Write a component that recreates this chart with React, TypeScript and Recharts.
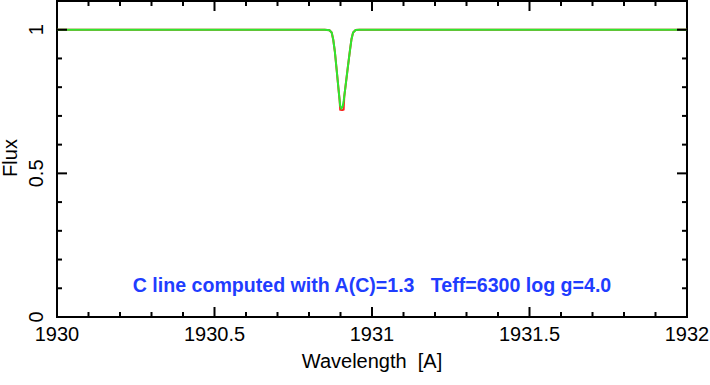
import { LineChart, Line, XAxis, YAxis, ReferenceArea, ReferenceDot, Label } from 'recharts';

// synthetic C line profile near 1930.9 A
const wavelength = [
  1930.0, 1930.85, 1930.865, 1930.872, 1930.877, 1930.882, 1930.888, 1930.894, 1930.897, 1930.899,
  1930.903, 1930.907, 1930.91, 1930.912, 1930.918, 1930.924, 1930.93, 1930.935, 1930.94, 1930.948,
  1930.96, 1932.0,
];
const observedFlux = [
  1, 1, 0.998, 0.99, 0.965, 0.925, 0.858, 0.79, 0.757, 0.722,
  0.721, 0.721, 0.722, 0.768, 0.822, 0.876, 0.928, 0.968, 0.99, 0.999,
  1, 1,
];
const modelFlux = [
  1, 1, 0.998, 0.99, 0.965, 0.925, 0.858, 0.79, 0.757, 0.735,
  0.726, 0.733, 0.752, 0.768, 0.822, 0.876, 0.928, 0.968, 0.99, 0.999,
  1, 1,
];

const xTicks = [
  1930, 1930.1, 1930.2, 1930.3, 1930.4, 1930.5, 1930.6, 1930.7, 1930.8, 1930.9, 1931,
  1931.1, 1931.2, 1931.3, 1931.4, 1931.5, 1931.6, 1931.7, 1931.8, 1931.9, 1932,
];
const xLabels = ['1930', '1930.5', '1931', '1931.5', '1932'];
const yTicks = [0, 0.1, 0.2, 0.3, 0.4, 0.5, 0.6, 0.7, 0.8, 0.9, 1, 1.1];
const yLabels = ['0', '0.5', '1'];

const annotation = 'C line computed with A(C)=1.3   Teff=6300 log g=4.0';

const data = wavelength.map((w, i) => ({ w, obs: observedFlux[i], model: modelFlux[i] }));

const W = 710;
const H = 385;
const MARGIN = { top: 1, right: 23, left: 0, bottom: 0 };
const Y_AXIS_W = 57;
const X_AXIS_H = 68;
const PLOT_TOP = MARGIN.top;
const PLOT_RIGHT = W - MARGIN.right;
const FONT = '"Liberation Sans", Arial, sans-serif';

const fmt = (v: number) => String(Number(v.toFixed(1)));

function XTick(props: any) {
  const { x, y, payload } = props;
  const label = fmt(payload.value);
  const major = xLabels.includes(label);
  const len = major ? 10 : 5;
  return (
    <g>
      <line x1={x} x2={x} y1={y} y2={y - len} stroke="#000" strokeWidth={2} />
      <line x1={x} x2={x} y1={PLOT_TOP} y2={PLOT_TOP + len} stroke="#000" strokeWidth={2} />
      {major && (
        <text x={x} y={y + 24} textAnchor="middle" fontSize={20} fontFamily={FONT} fill="#000">
          {label}
        </text>
      )}
    </g>
  );
}

function YTick(props: any) {
  const { x, y, payload } = props;
  const label = fmt(payload.value);
  const major = yLabels.includes(label);
  const len = major ? 10 : 5;
  return (
    <g>
      <line x1={x} x2={x + len} y1={y} y2={y} stroke="#000" strokeWidth={2} />
      <line x1={PLOT_RIGHT} x2={PLOT_RIGHT - len} y1={y} y2={y} stroke="#000" strokeWidth={2} />
      {major && (
        <text
          x={x - 14}
          y={y}
          transform={`rotate(-90, ${x - 14}, ${y})`}
          textAnchor="middle"
          fontSize={20}
          fontFamily={FONT}
          fill="#000"
        >
          {label}
        </text>
      )}
    </g>
  );
}

export default function App() {
  return (
    <div style={{ position: 'absolute', left: 0, top: 0, background: '#fff' }}>
      <LineChart width={W} height={H} data={data} margin={MARGIN}>
        <XAxis
          dataKey="w"
          type="number"
          domain={[1930, 1932]}
          ticks={xTicks}
          interval={0}
          height={X_AXIS_H}
          axisLine={false}
          tickLine={false}
          tickSize={0}
          tickMargin={0}
          tick={<XTick />}
          allowDataOverflow
        >
          <Label
            content={(p: any) => {
              const vb = p.viewBox;
              return (
                <text
                  x={vb.x + vb.width / 2}
                  y={368}
                  textAnchor="middle"
                  fontSize={20}
                  fontFamily={FONT}
                  fill="#000"
                  style={{ whiteSpace: 'pre' }}
                >
                  {'Wavelength  [A]'}
                </text>
              );
            }}
          />
        </XAxis>
        <YAxis
          type="number"
          domain={[0, 1.1]}
          ticks={yTicks}
          interval={0}
          width={Y_AXIS_W}
          axisLine={false}
          tickLine={false}
          tickSize={0}
          tickMargin={0}
          tick={<YTick />}
          allowDataOverflow
        >
          <Label
            content={(p: any) => {
              const vb = p.viewBox;
              const cy = vb.y + vb.height / 2 - 1;
              return (
                <text
                  x={17}
                  y={cy}
                  transform={`rotate(-90, 17, ${cy})`}
                  textAnchor="middle"
                  fontSize={20}
                  fontFamily={FONT}
                  fill="#000"
                >
                  Flux
                </text>
              );
            }}
          />
        </YAxis>
        <Line
          dataKey="obs"
          stroke="#ff2020"
          strokeWidth={2}
          dot={false}
          type="linear"
          isAnimationActive={false}
        />
        <Line
          dataKey="model"
          stroke="#2ee82e"
          strokeWidth={2}
          dot={false}
          type="linear"
          isAnimationActive={false}
        />
        <ReferenceArea
          x1={1930}
          x2={1932}
          y1={0}
          y2={1.1}
          fill="none"
          fillOpacity={0}
          stroke="#000"
          strokeWidth={2}
          ifOverflow="visible"
        />
        <ReferenceDot
          x={1931}
          y={0.111}
          r={1}
          fill="none"
          stroke="none"
          label={(p: any) => {
            const vb = p.viewBox;
            const cx = vb.x + (vb.width || 0) / 2;
            const cy = vb.y + (vb.height || 0) / 2;
            return (
              <text
                x={cx}
                y={cy}
                dy={7}
                textAnchor="middle"
                fontSize={19.6}
                fontWeight="bold"
                fontFamily={FONT}
                fill="#1f3dff"
                style={{ whiteSpace: 'pre' }}
              >
                {annotation}
              </text>
            );
          }}
        />
      </LineChart>
    </div>
  );
}
